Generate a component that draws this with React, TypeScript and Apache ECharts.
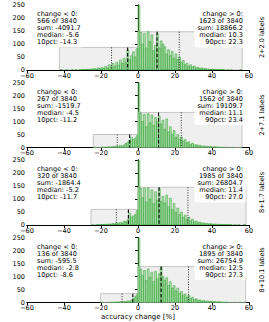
import React, { useEffect, useRef } from 'react';
import * as echarts from 'echarts';

// ---------- data ----------
const panelLabels = ['2+2.0 labels', '2+7.1 labels', '8+1.7 labels', '8+10.1 labels'];
const totalRuns = 3840;
const negCounts = [566, 267, 320, 136];
const negSums = [-4091.7, -1519.7, -1864.4, -595.5];
const negMedians = [-5.6, -4.5, -5.2, -2.8];
const negP10 = [-14.3, -11.2, -11.7, -8.6];
const posCounts = [1623, 1562, 1985, 1895];
const posSums = [18866.2, 19109.7, 26804.7, 26754.9];
const posMedians = [10.3, 11.1, 11.4, 12.5];
const posP90 = [22.3, 23.4, 27.0, 27.3];
const negMins = [-42.5, -24.2, -25.4, -20.2];
const posMaxs = [56.3, 56.2, 58.4, 58.2];
const negBoxHeights = [87, 50, 60, 34];
const posBoxHeights = [147, 135, 145, 138];

// histogram counts, 1% bins; negative side starts at negBinStarts, positive side at 0
const negBinStarts = [-42, -24, -25, -20];
const negHist1 = [1, 0, 0, 1, 0, 0, 1, 0, 1, 0, 1, 1, 2, 1, 3, 2, 4, 3, 6, 3, 8, 5, 10, 6, 14, 8, 20, 12, 25, 15, 30, 18, 38, 25, 45, 30, 78, 40, 55, 70, 50, 82];
const negHist2 = [1, 0, 1, 0, 2, 1, 2, 1, 3, 2, 4, 3, 6, 4, 8, 5, 10, 15, 20, 28, 38, 30, 35, 45];
const negHist3 = [1, 0, 1, 1, 1, 2, 2, 3, 2, 4, 3, 6, 4, 8, 5, 10, 7, 14, 12, 20, 45, 30, 35, 40, 55];
const negHist4 = [1, 0, 0, 1, 0, 1, 1, 1, 2, 1, 3, 2, 4, 3, 6, 5, 10, 15, 22, 30];
const posHist1 = [300, 145, 100, 140, 85, 147, 110, 135, 75, 95, 140, 85, 112, 100, 90, 62, 78, 55, 72, 45, 62, 40, 50, 30, 36, 20, 26, 15, 20, 12, 15, 8, 10, 6, 8, 5, 6, 3, 4, 2, 3, 2, 2, 1, 2, 1, 1, 0, 1, 0, 1, 0, 0, 0, 0, 1];
const posHist2 = [300, 132, 100, 128, 80, 130, 95, 125, 85, 115, 100, 120, 90, 105, 70, 110, 60, 80, 50, 65, 40, 50, 32, 40, 25, 30, 18, 22, 12, 16, 9, 11, 7, 8, 5, 6, 4, 5, 3, 4, 2, 3, 2, 2, 1, 1, 1, 0, 1, 0, 0, 1, 0, 0, 0, 1];
const posHist3 = [300, 140, 105, 142, 88, 143, 100, 135, 82, 128, 95, 140, 90, 110, 85, 115, 70, 103, 60, 83, 50, 65, 40, 50, 30, 38, 22, 30, 16, 22, 12, 15, 9, 11, 7, 8, 5, 6, 4, 5, 3, 4, 2, 3, 2, 2, 1, 2, 1, 1, 1, 0, 1, 0, 1, 0, 0, 1];
const posHist4 = [300, 129, 104, 123, 85, 129, 97, 117, 80, 120, 91, 110, 136, 100, 85, 95, 65, 80, 55, 65, 45, 55, 35, 42, 28, 33, 20, 28, 15, 20, 11, 14, 8, 10, 6, 8, 5, 6, 4, 5, 3, 4, 2, 3, 2, 2, 1, 1, 1, 0, 1, 0, 1, 0, 0, 1, 0, 1];
const negHists = [negHist1, negHist2, negHist3, negHist4];
const posHists = [posHist1, posHist2, posHist3, posHist4];

const xTicks = { min: -60, max: 60, interval: 20 };
const yTicks = { min: 0, max: 250, interval: 50 };
const xAxisTitle = 'accuracy change [%]';

// ---------- layout ----------
const W = 269;
const H = 322;
const gridLeft = 27;
const gridWidth = 222;
const gridTops = [5, 82.5, 160, 237.5];
const gridHeight = 65;
const FONT = 'DejaVu Sans';

const minusFmt = (v: number) => String(v).replace('-', '\u2212');

function buildOption() {
  const grids: any[] = [];
  const xAxes: any[] = [];
  const yAxes: any[] = [];
  const series: any[] = [];
  const graphics: any[] = [];

  const axisLine = { show: true, lineStyle: { color: '#000', width: 1 } };

  for (let i = 0; i < 4; i++) {
    grids.push({ left: gridLeft, top: gridTops[i], width: gridWidth, height: gridHeight, containLabel: false });
  }
  for (let i = 0; i < 4; i++) {
    xAxes.push({
      type: 'value', gridIndex: i, position: 'bottom', ...xTicks,
      axisLine, splitLine: { show: false },
      axisTick: { show: true, inside: false, length: 3, lineStyle: { color: '#000' } },
      axisLabel: { fontFamily: FONT, fontSize: 6.5, color: '#000', margin: 2, formatter: minusFmt },
      ...(i === 3 ? { name: xAxisTitle, nameLocation: 'middle', nameGap: 11, nameTextStyle: { fontFamily: FONT, fontSize: 7, color: '#000' } } : {}),
    });
  }
  for (let i = 0; i < 4; i++) {
    xAxes.push({
      type: 'value', gridIndex: i, position: 'top', ...xTicks,
      axisLine, splitLine: { show: false },
      axisTick: { show: true, inside: true, length: 2.5, lineStyle: { color: '#000' } },
      axisLabel: { show: false },
    });
  }
  for (let i = 0; i < 4; i++) {
    yAxes.push({
      type: 'value', gridIndex: i, position: 'left', ...yTicks,
      axisLine, splitLine: { show: false },
      axisTick: { show: true, inside: false, length: 3, lineStyle: { color: '#000' } },
      axisLabel: { fontFamily: FONT, fontSize: 6.5, color: '#000', margin: 2 },
    });
  }
  for (let i = 0; i < 4; i++) {
    yAxes.push({
      type: 'value', gridIndex: i, position: 'right', ...yTicks,
      axisLine, splitLine: { show: false },
      axisTick: { show: true, inside: true, length: 2.5, lineStyle: { color: '#000' } },
      axisLabel: { show: false },
    });
  }

  for (let i = 0; i < 4; i++) {
    series.push({
      type: 'custom', xAxisIndex: i, yAxisIndex: i, z: 1, clip: true, silent: true,
      data: [[negMins[i], 0, negBoxHeights[i]], [0, posMaxs[i], posBoxHeights[i]]],
      renderItem: (p: any, api: any) => {
        const a = api.coord([api.value(0), api.value(2)]);
        const b = api.coord([api.value(1), 0]);
        return {
          type: 'rect',
          shape: { x: a[0], y: a[1], width: b[0] - a[0], height: b[1] - a[1] },
          style: { fill: '#efefef', stroke: '#c4c4c4', lineWidth: 1 },
        };
      },
    });
    const histData: number[][] = [];
    negHists[i].forEach((c, k) => histData.push([negBinStarts[i] + k, c]));
    posHists[i].forEach((c, k) => histData.push([k, c]));
    series.push({
      type: 'custom', xAxisIndex: i, yAxisIndex: i, z: 2, clip: true, silent: true,
      data: histData,
      renderItem: (p: any, api: any) => {
        const x0 = api.value(0);
        const v = api.value(1);
        if (!v) return null;
        const a = api.coord([x0, v]);
        const b = api.coord([x0 + 1, 0]);
        return {
          type: 'rect',
          shape: { x: a[0], y: a[1], width: b[0] - a[0], height: b[1] - a[1] },
          style: { fill: 'rgba(120,205,120,0.45)', stroke: 'rgba(50,165,50,0.9)', lineWidth: 0.6 },
        };
      },
    });
    series.push({
      type: 'custom', xAxisIndex: i, yAxisIndex: i, z: 3, clip: true, silent: true,
      data: [
        [negMedians[i], negBoxHeights[i], 0],
        [negP10[i], negBoxHeights[i], 1],
        [posMedians[i], posBoxHeights[i], 0],
        [posP90[i], posBoxHeights[i], 1],
      ],
      renderItem: (p: any, api: any) => {
        const a = api.coord([api.value(0), api.value(1)]);
        const b = api.coord([api.value(0), 0]);
        const dotted = api.value(2) === 1;
        return {
          type: 'line',
          shape: { x1: a[0], y1: a[1], x2: b[0], y2: b[1] },
          style: { stroke: '#000', lineWidth: dotted ? 0.8 : 1.1, lineDash: dotted ? [1, 1.5] : [3.5, 2] },
        };
      },
    });

    const top = gridTops[i];
    const leftText = [
      'change < 0:',
      `${negCounts[i]} of ${totalRuns}`,
      `sum: ${negSums[i].toFixed(1)}`,
      `median: ${negMedians[i].toFixed(1)}`,
      `10pct: ${negP10[i].toFixed(1)}`,
    ].join('\n');
    const rightText = [
      'change > 0:',
      `${posCounts[i]} of ${totalRuns}`,
      `sum: ${posSums[i].toFixed(1)}`,
      `median: ${posMedians[i].toFixed(1)}`,
      `90pct: ${posP90[i].toFixed(1)}`,
    ].join('\n');
    graphics.push({
      type: 'text', x: 34, y: top + 4, z: 100,
      style: {
        text: leftText, font: `6.6px "${FONT}"`, fill: '#000', lineHeight: 7.1,
        align: 'left', verticalAlign: 'top',
        backgroundColor: 'rgba(255,255,255,0.85)', padding: [1.5, 3, 1.5, 3], borderRadius: 2,
      },
    });
    graphics.push({
      type: 'text', x: 246, y: top + 4, z: 100,
      style: {
        text: rightText, font: `6.6px "${FONT}"`, fill: '#000', lineHeight: 7.1,
        align: 'right', verticalAlign: 'top',
        backgroundColor: 'rgba(255,255,255,0.85)', padding: [1.5, 3, 1.5, 3], borderRadius: 2,
      },
    });
    graphics.push({
      type: 'text', x: 262, y: top + gridHeight / 2, rotation: Math.PI / 2, z: 100,
      style: {
        text: panelLabels[i], font: `6.5px "${FONT}"`, fill: '#000',
        align: 'center', verticalAlign: 'middle',
      },
    });
  }

  return {
    animation: false,
    backgroundColor: '#fff',
    grid: grids,
    xAxis: xAxes,
    yAxis: yAxes,
    series,
    graphic: graphics,
  };
}

export default function App() {
  const ref = useRef<HTMLDivElement>(null);
  useEffect(() => {
    if (!ref.current) return;
    const chart = echarts.init(ref.current, undefined, { renderer: 'svg' });
    chart.setOption(buildOption() as any);
    return () => chart.dispose();
  }, []);
  return <div ref={ref} style={{ width: W, height: H, position: 'absolute', left: 0, top: 0 }} />;
}
